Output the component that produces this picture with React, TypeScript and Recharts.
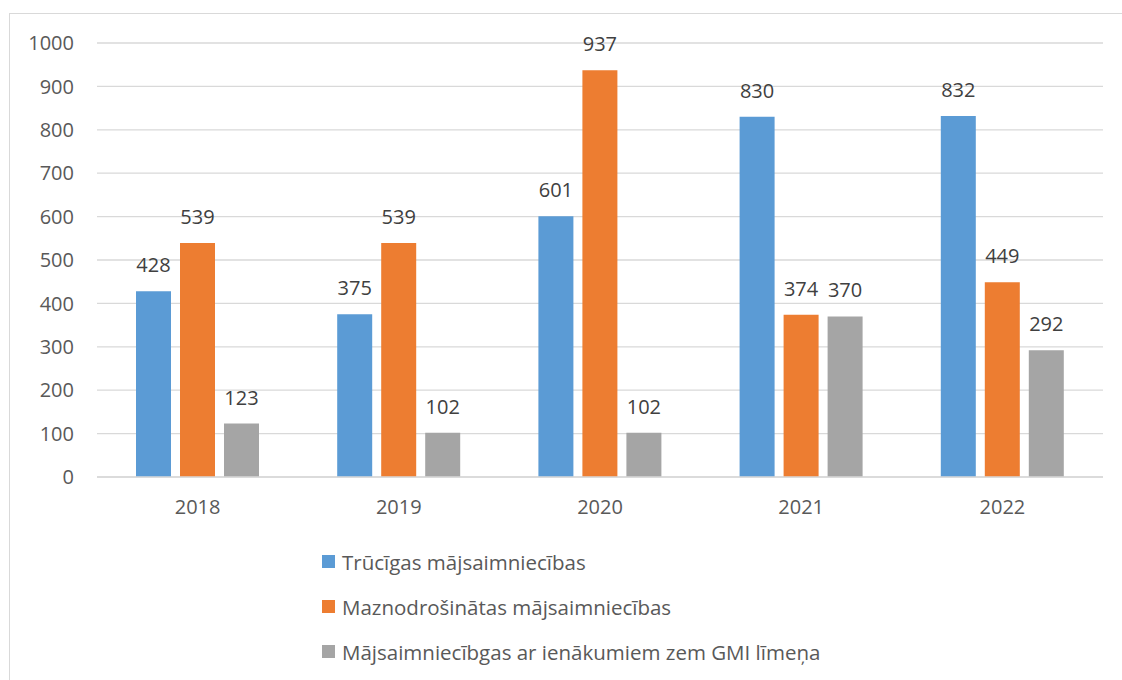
import React from "react";
import { BarChart, Bar, XAxis, YAxis, CartesianGrid, Legend, LabelList } from "recharts";

const years = ["2018", "2019", "2020", "2021", "2022"];
const trucigas = [428, 375, 601, 830, 832];
const maznodrosinatas = [539, 539, 937, 374, 449];
const zemGmi = [123, 102, 102, 370, 292];
const yTicks = [0, 100, 200, 300, 400, 500, 600, 700, 800, 900, 1000];

const seriesNames = [
  "Trūcīgas mājsaimniecības",
  "Maznodrošinātas mājsaimniecības",
  "Mājsaimniecībgas ar ienākumiem zem GMI līmeņa",
];
const colors = ["#5B9BD5", "#ED7D31", "#A5A5A5"];

const data = years.map((y, i) => ({
  year: y,
  a: trucigas[i],
  b: maznodrosinatas[i],
  c: zemGmi[i],
}));

const FONT = "'Open Sans', sans-serif";

const LegendContent = (props: any) => {
  const payload = [...(props.payload || [])].sort(
    (p: any, q: any) => seriesNames.indexOf(p.value) - seriesNames.indexOf(q.value)
  );
  return (
    <div style={{ fontFamily: FONT, fontSize: 20.5, color: "#595959" }}>
      {payload.map((p: any, i: number) => (
        <div key={i} style={{ display: "flex", alignItems: "center", height: 45 }}>
          <span
            style={{
              display: "inline-block",
              width: 13,
              height: 13,
              background: p.color,
              marginRight: 7,
            }}
          />
          <span>{p.value}</span>
        </div>
      ))}
    </div>
  );
};

export default function App() {
  return (
    <div
      style={{
        position: "fixed",
        left: 0,
        top: 0,
        width: 1122,
        height: 680,
        overflow: "hidden",
        background: "#fff",
      }}
    >
      <div
        style={{
          position: "absolute",
          left: 9,
          top: 13,
          width: 1200,
          height: 800,
          border: "1px solid #d9d9d9",
        }}
      />
      <div style={{ position: "absolute", left: 0, top: 0 }}>
        <BarChart
          width={1122}
          height={680}
          data={data}
          margin={{ top: 43, right: 19, left: 0, bottom: 163 }}
          barSize={35}
          barGap={9}
        >
          <CartesianGrid vertical={false} stroke="#d9d9d9" strokeWidth={1.3} />
          <XAxis
            dataKey="year"
            height={40}
            tickLine={false}
            axisLine={{ stroke: "#d9d9d9", strokeWidth: 1.3 }}
            tickMargin={17}
            tick={{ fill: "#595959", fontSize: 20, fontFamily: FONT }}
          />
          <YAxis
            width={97}
            domain={[0, 1000]}
            ticks={yTicks}
            interval={0}
            tickLine={false}
            axisLine={false}
            tickMargin={17}
            tick={{ fill: "#595959", fontSize: 20, fontFamily: FONT }}
          />
          <Legend
            layout="horizontal"
            verticalAlign="middle"
            align="center"
            content={<LegendContent />}
            wrapperStyle={{ top: 539, left: 322, width: 700, height: 135 }}
          />
          <Bar dataKey="a" name={seriesNames[0]} fill={colors[0]} isAnimationActive={false}>
            <LabelList dataKey="a" position="top" offset={19} fill="#404040" fontSize={20} fontFamily={FONT} />
          </Bar>
          <Bar dataKey="b" name={seriesNames[1]} fill={colors[1]} isAnimationActive={false}>
            <LabelList dataKey="b" position="top" offset={19} fill="#404040" fontSize={20} fontFamily={FONT} />
          </Bar>
          <Bar dataKey="c" name={seriesNames[2]} fill={colors[2]} isAnimationActive={false}>
            <LabelList dataKey="c" position="top" offset={19} fill="#404040" fontSize={20} fontFamily={FONT} />
          </Bar>
        </BarChart>
      </div>
    </div>
  );
}
